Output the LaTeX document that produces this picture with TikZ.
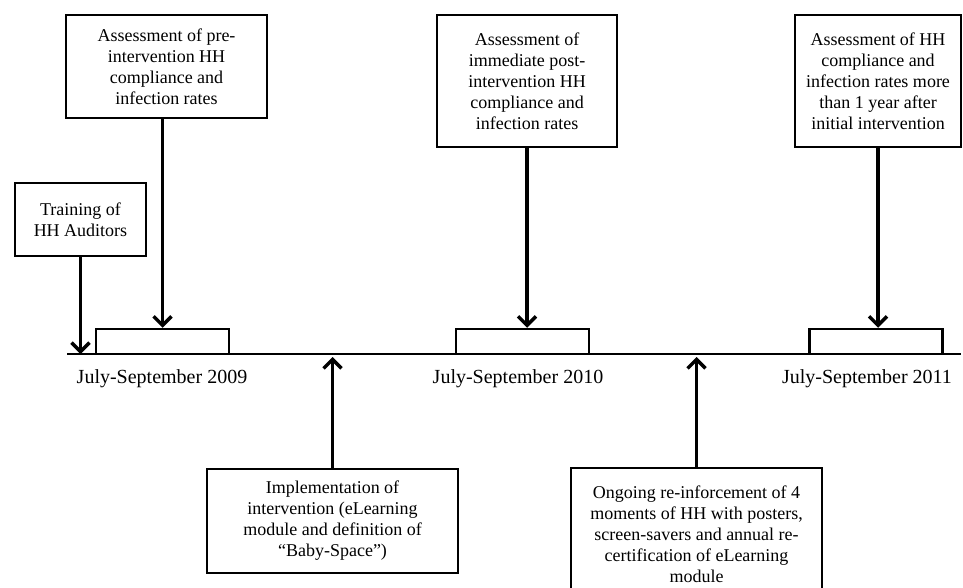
\documentclass[tikz,border=0pt]{standalone}
\usepackage{fontspec}
\setmainfont{Liberation Serif}
\usetikzlibrary{arrows.meta}
\tikzset{
every picture/.style={line width=2.5pt}
}
\tikzset{
  event/.style={draw, line width=2.5pt, align=center, inner sep=0pt,
    font=\fontsize{18}{21}\selectfont},
  period/.style={draw, line width=2.5pt, minimum width=133pt,
    minimum height=25pt, inner sep=0pt},
  datelabel/.style={inner sep=0pt, font=\fontsize{20}{24}\selectfont},
  pointer/.style={line width=3.5pt,
    -{Straight Barb[length=9pt,width=18pt,line width=3.5pt]}}
}

\begin{document}
\begin{tikzpicture}[x=1pt, y=-1pt]
    \useasboundingbox (0,0) rectangle (963,588);
    % timeline
    \coordinate (tl0) at (67,354);
    \coordinate (tl1) at (961,354);
    \draw (tl0) -- (tl1);
    \node[period] (p09) at (162.5,341.5) {};
    \node[period] (p10) at (522.5,341.5) {};
    \node[period] (p11) at (876,341.5) {};
    \node[datelabel] (d09) at (162,379) {July-September 2009};
    \node[datelabel] (d10) at (518,379) {July-September 2010};
    \node[datelabel] (d11) at (867,379) {July-September 2011};
    % events above
    \node[event, minimum width=131pt, minimum height=73pt] (train) at (80.5,219.5)
      {Training of\\HH Auditors};
    \node[event, minimum width=201pt, minimum height=103pt] (pre) at (166.5,66.5)
      {Assessment of pre-\\intervention HH\\compliance and\\infection rates};
    \node[event, minimum width=180pt, minimum height=132pt] (post) at (527,81)
      {Assessment of\\immediate post-\\intervention HH\\compliance and\\infection rates};
    \node[event, minimum width=166pt, minimum height=132pt] (late) at (878,81)
      {Assessment of HH\\compliance and\\infection rates more\\than 1 year after\\initial intervention};
    % events below
    \node[event, minimum width=251pt, minimum height=104pt] (impl) at (332.5,521)
      {Implementation of\\intervention (eLearning\\module and definition of\\“Baby-Space”)};
    \node[event, minimum width=251pt, minimum height=132pt] (ongo) at (696.5,534)
      {Ongoing re-inforcement of 4\\moments of HH with posters,\\screen-savers and annual re-\\certification of eLearning\\module};
    % arrows
    \draw[pointer] (train.south) -- (train.south |- tl0);
    \draw[pointer] (p09.north |- pre.south) -- (p09.north);
    \draw[pointer] (post.south) -- (post.south |- p10.north);
    \draw[pointer] (late.south) -- (late.south |- p11.north);
    \draw[pointer, shorten >=3pt] (impl.north) -- (impl.north |- tl0);
    \draw[pointer, shorten >=3pt] (ongo.north) -- (ongo.north |- tl0);
\end{tikzpicture}
\end{document}
